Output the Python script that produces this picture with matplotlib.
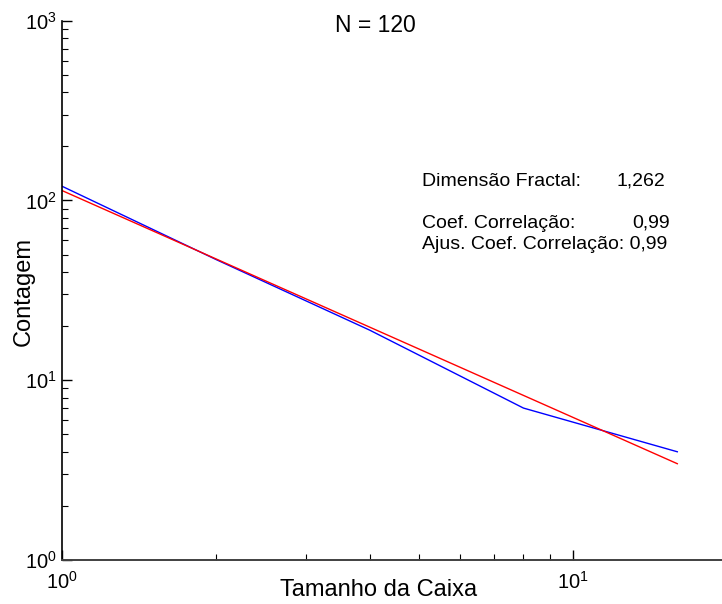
import numpy as np
import matplotlib
matplotlib.use("Agg")
import matplotlib.pyplot as plt
from matplotlib.ticker import LogLocator, LogFormatterSciNotation, NullFormatter

# Box-counting results
box_sizes = [1, 2, 4, 8, 16]
counts = [120, 47, 19, 7, 4]
fractal_dimension = 1.262
correlation = 0.99
adj_correlation = 0.99

plt.rcParams["font.family"] = ["Liberation Sans", "DejaVu Sans"]
plt.rcParams["mathtext.fontset"] = "custom"
plt.rcParams["mathtext.rm"] = "Liberation Sans"
plt.rcParams["mathtext.default"] = "regular"

W, H = 722, 604
fig = plt.figure(figsize=(W / 100, H / 100), dpi=100)
ax = fig.add_axes([62 / W, 44 / H, 660 / W, 539.3 / H])

x = np.array(box_sizes, dtype=float)
y = np.array(counts, dtype=float)

# Power-law fit line with the reported dimension as slope
lx, ly = np.log10(x), np.log10(y)
intercept = ly.mean() + fractal_dimension * lx.mean()
fit = 10 ** (intercept - fractal_dimension * lx)

ax.plot(x, y, color="#0000FF", lw=1.0)
ax.plot(x, fit, color="#FF0000", lw=1.0)

ax.set_xscale("log")
ax.set_yscale("log")
ax.set_xlim(1, 10 ** (660 / 511))
ax.set_ylim(1, 1000)

for s in ["top", "right"]:
    ax.spines[s].set_visible(False)
ax.spines["left"].set_color("black")
ax.spines["left"].set_linewidth(1.2)
ax.spines["bottom"].set_color("#404040")
ax.spines["bottom"].set_linewidth(1.4)

ax.xaxis.set_major_locator(LogLocator(base=10, numticks=10))
ax.yaxis.set_major_locator(LogLocator(base=10, numticks=10))
ax.xaxis.set_minor_locator(LogLocator(base=10, subs=np.arange(2, 10), numticks=20))
ax.yaxis.set_minor_locator(LogLocator(base=10, subs=np.arange(2, 10), numticks=20))
ax.xaxis.set_major_formatter(LogFormatterSciNotation())
ax.yaxis.set_major_formatter(LogFormatterSciNotation())
ax.xaxis.set_minor_formatter(NullFormatter())
ax.yaxis.set_minor_formatter(NullFormatter())

ax.tick_params(axis="both", which="major", direction="in", length=7.2, width=1.0,
               labelsize=14.5, color="black")
ax.tick_params(axis="both", which="minor", direction="in", length=4.3, width=0.8,
               color="black")
ax.tick_params(axis="x", which="major", pad=8)
ax.tick_params(axis="y", which="major", pad=4)

ax.set_xlabel("Tamanho da Caixa", fontsize=17, va="baseline")
ax.xaxis.set_label_coords((378.5 - 62) / 660, -(596 - 560) / 539.3)
ax.set_ylabel("Contagem", fontsize=17, va="baseline")
ax.yaxis.set_label_coords(-(62 - 30) / 660, (560 - 292) / 539.3)

fig.text(375 / W, 1 - 32.3 / H, f"N = {counts[0]}", fontsize=16.5,
         ha="center", va="baseline")

fmt = lambda v, d: f"{v:.{d}f}".replace(".", ",")
fs = 14
fig.text(422 / W, 1 - 186 / H, "Dimensão Fractal:", fontsize=fs, va="baseline")
fig.text(617 / W, 1 - 186 / H, fmt(fractal_dimension, 3), fontsize=fs, va="baseline")
fig.text(422 / W, 1 - 228 / H, "Coef. Correlação:", fontsize=fs, va="baseline")
fig.text(632 / W, 1 - 228 / H, fmt(correlation, 2), fontsize=fs, va="baseline")
fig.text(422 / W, 1 - 249 / H, "Ajus. Coef. Correlação: " + fmt(adj_correlation, 2),
         fontsize=fs, va="baseline")

fig.savefig("out.png", dpi=100)
